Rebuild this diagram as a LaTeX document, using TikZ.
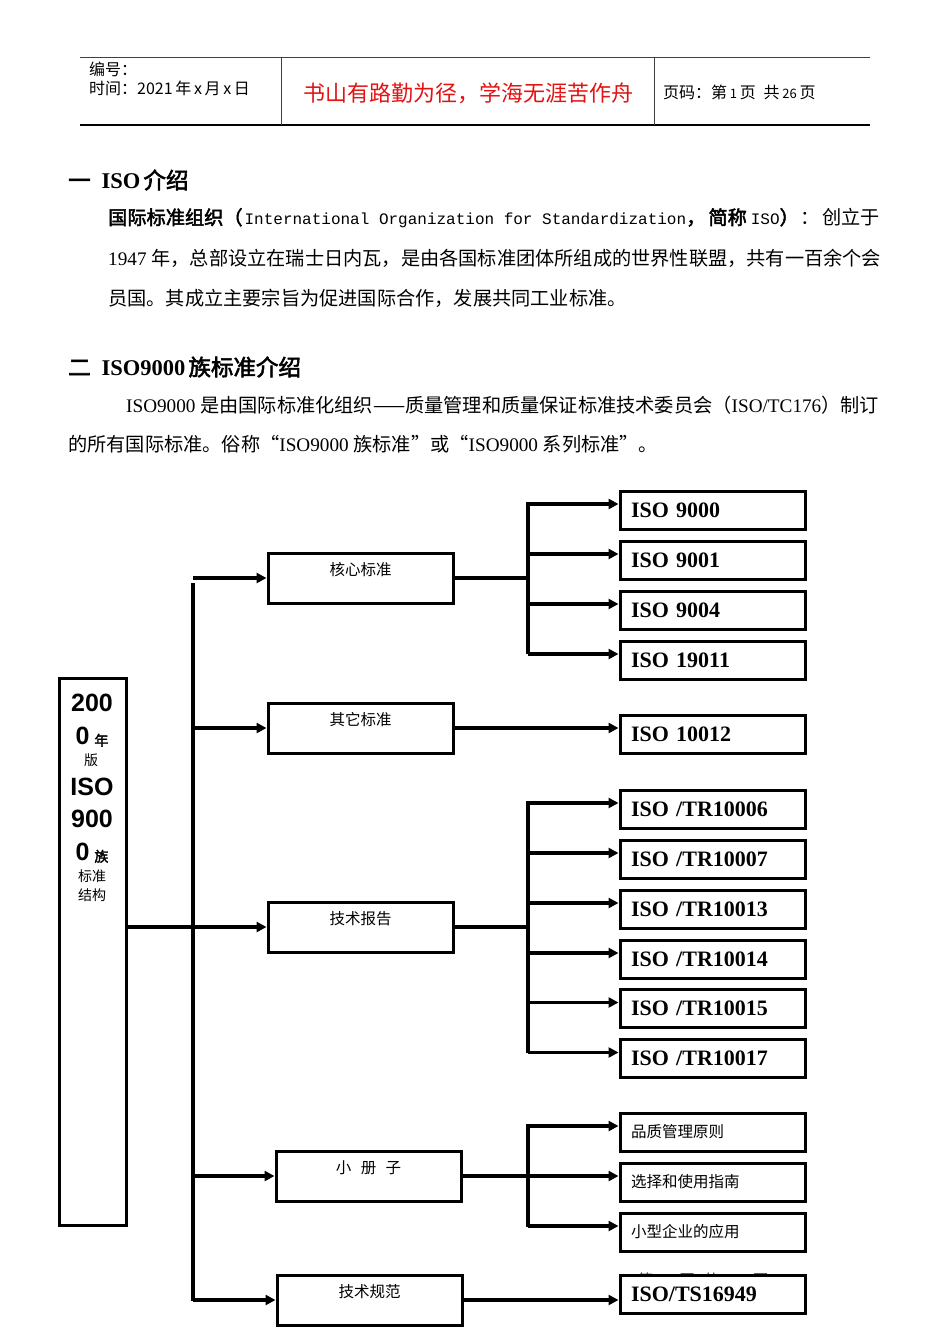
\documentclass[tikz,border=0pt]{standalone}
\usepackage{fontspec}
\setmainfont{Liberation Serif}
\newfontfamily\cjk{Noto Sans CJK SC}[AutoFakeBold=2.5]
\newfontfamily\lmono{Liberation Mono}
\newfontfamily\lsans{Liberation Sans}
\usetikzlibrary{arrows.meta}
\definecolor{titlered}{RGB}{228,18,18}
\newcommand\hdrfont{\cjk\fontsize{16}{18}\selectfont}
\newcommand\bodyfont{\fontsize{19.2}{22}\selectfont}
\newcommand\headfont{\fontsize{22.5}{24}\selectfont\bfseries}
\newcommand\bigdig{\lsans\bfseries\fontsize{25}{26}\selectfont}
\newcommand\bigcjk{\cjk\fontsize{14}{15}\selectfont}
\newcommand\monofont{\lmono\fontsize{16}{20}\selectfont}
\begin{document}
\begin{tikzpicture}[x=1pt,y=-1pt,
  txt/.style={inner sep=0pt, anchor=west},
  connline/.style={draw, line width=3.2pt},
  connarrow/.style={draw, line width=3.2pt, -{Triangle[length=10pt,width=10pt]}},
  midbox/.style={draw, line width=3pt, minimum width=185pt, minimum height=50pt, inner sep=0pt},
  midlab/.style={anchor=north, yshift=-11pt, inner sep=0pt, font=\cjk\fontsize{15.5}{16}\selectfont},
  rbox/.style={draw, fill=white, line width=3pt, minimum width=185pt, minimum height=38pt,
     inner xsep=11pt, inner ysep=0pt, text width=163pt, align=left,
     font=\rmfamily\bfseries\fontsize{22}{24}\selectfont},
  rcbox/.style={rbox, font=\cjk\fontsize{15.5}{16}\selectfont},
  bigtxt/.style={inner sep=0pt}
]
\useasboundingbox (0,0) rectangle (950,1344);
\fill[white] (0,0) rectangle (950,1344);

% ---------- header ----------
\draw[line width=0.8pt, black!75] (80,57) -- (870,57);
\draw[line width=1.3pt] (80,125) -- (870,125);
\draw[line width=0.8pt, black!75] (281,57) -- (281,125);
\draw[line width=0.8pt, black!75] (654,57) -- (654,125);
\node[txt, font=\hdrfont] (h1) at (89,69) {编号：};
\node[txt, font=\hdrfont] (h2) at (89,88) {时间：2021\,年\,x\,月\,x\,日};
\node[inner sep=0pt, font=\cjk\fontsize{22}{24}\selectfont, text=titlered] (h3) at (468,93) {书山有路勤为径，学海无涯苦作舟};
\node[txt, font=\hdrfont] (h4) at (663,92) {页码：第\,{\fontsize{13}{14}\selectfont 1}\,页\hspace{0.5em}共\,{\fontsize{13}{14}\selectfont 26}\,页};

% ---------- section 1 ----------
\node[txt, font=\headfont] (s1) at (68,180) {{\cjk 一}\hspace{11pt}ISO\hspace{3pt}{\cjk 介绍}};
\node[txt, font=\bodyfont] (p1) at (108,218) {{\cjk\bfseries 国际标准组织（}\hspace{2pt}{\monofont International Organization for Standardization}{\cjk\bfseries ，\hspace{3pt}简称\hspace{4pt}}{\monofont ISO}{\cjk\bfseries ）\hspace{2pt}}{\cjk ：\hspace{2pt}创立于}};
\node[txt, font=\bodyfont] (p2) at (108,258) {1947 {\cjk 年，总部设立在瑞士日内瓦，是由各国标准团体所组成的世界性联盟，共有一百余个会}};
\node[txt, font=\bodyfont] (p3) at (108,298) {{\cjk 员国。其成立主要宗旨为促进国际合作，发展共同工业标准。}};

% ---------- section 2 ----------
\node[txt, font=\headfont] (s2) at (68,367) {{\cjk 二}\hspace{11pt}ISO9000\hspace{3pt}{\cjk 族标准介绍}};
\node[txt, font=\bodyfont] (p4) at (126,405) {ISO9000 {\cjk 是由国际标准化组织——质量管理和质量保证标准技术委员会（}ISO/TC176{\cjk ）制订}};
\node[txt, font=\bodyfont] (p5) at (68,444) {{\cjk 的所有国际标准。俗称“}ISO9000 {\cjk 族标准”或“}ISO9000 {\cjk 系列标准”。}};

% ---------- big left box ----------
\node[draw, line width=3pt, minimum width=67pt, minimum height=547pt, inner sep=0pt] (big) at (92.5,951.5) {};
\node[bigtxt, font=\bigdig] (bt1) at (92,703) {200};
\node[bigtxt, font=\bigdig] (bt2) at (92,737) {0\hspace{5pt}\raisebox{-1pt}{\bigcjk 年}};
\node[bigtxt, font=\bigcjk] (bt3) at (91,760) {版};
\node[bigtxt, font=\bigdig] (bt4) at (92,787) {ISO};
\node[bigtxt, font=\bigdig] (bt5) at (92,819) {900};
\node[bigtxt, font=\bigdig] (bt6) at (92,853) {0\hspace{5pt}\raisebox{-1pt}{\bigcjk 族}};
\node[bigtxt, font=\bigcjk] (bt7) at (92,876) {标准};
\node[bigtxt, font=\bigcjk] (bt8) at (92,895) {结构};

% ---------- middle boxes ----------
\node[midbox, label={[midlab]north:核心标准}] (core) at (360.5,578) {};
\node[midbox, label={[midlab]north:其它标准}] (other) at (360.5,728) {};
\node[midbox, label={[midlab]north:技术报告}] (tech) at (360.5,927) {};
\node[midbox, label={[midlab]north:小\hspace{0.6em}册\hspace{0.6em}子}] (book) at (368.5,1176) {};
\node[midbox, label={[midlab]north:技术规范}] (spec) at (369.5,1300) {};

% footer of the page, mostly covered by the last box
\node[txt, font=\cjk\fontsize{15}{16}\selectfont, text=black!80] (foot) at (638,1280) {第\hspace{0.6em}1\hspace{0.6em}页\hspace{0.6em}共\hspace{0.6em}26\hspace{0.6em}页};

% ---------- right boxes ----------
\node[rbox] (r1) at (712.5,510) {ISO 9000};
\node[rbox] (r2) at (712.5,560) {ISO 9001};
\node[rbox] (r3) at (712.5,610) {ISO 9004};
\node[rbox] (r4) at (712.5,660) {ISO 19011};
\node[rbox] (r5) at (712.5,734.5) {ISO 10012};
\node[rbox] (r6) at (712.5,809) {ISO /TR10006};
\node[rbox] (r7) at (712.5,859) {ISO /TR10007};
\node[rbox] (r8) at (712.5,909) {ISO /TR10013};
\node[rbox] (r9) at (712.5,959) {ISO /TR10014};
\node[rbox] (r10) at (712.5,1008.5) {ISO /TR10015};
\node[rbox] (r11) at (712.5,1058.5) {ISO /TR10017};
\node[rcbox] (r12) at (712.5,1132) {品质管理原则};
\node[rcbox] (r13) at (712.5,1182) {选择和使用指南};
\node[rcbox] (r14) at (712.5,1232) {小型企业的应用};
\node[rbox] (r15) at (712.5,1294.5) {ISO/TS16949};

\foreach \k in {r1,r2,r3,r4,r6,r7,r8,r9,r10,r11,r12,r13,r14}
  \coordinate (\k a) at ([yshift=6pt]\k.west);

% ---------- trunk ----------
\coordinate (t0) at (193,583);
\coordinate (t1) at (193,1301);
\path[connline] (t0) -- (t1);
\path[connarrow] (big.east |- tech.west) -- (tech.west);
\path[connarrow] (t0 |- core.west) -- (core.west);
\path[connarrow] (t0 |- other.west) -- (other.west);
\path[connarrow] (t0 |- book.west) -- (book.west);
\path[connarrow] (t1 |- spec.west) -- (spec.west);

% ---------- core branch ----------
\coordinate (b1) at (528,578);
\coordinate (b1t) at (528,502);
\coordinate (b1b) at (528,654);
\path[connline] (core.east) -- (b1);
\path[connline] (b1t) -- (b1b);
\foreach \k in {r1,r2,r3,r4}
  \path[connarrow] (b1 |- \k a) -- (\k a);

% ---------- other branch ----------
\path[connarrow] (other.east) -- (other.east -| r5.west);

% ---------- technical report branch ----------
\coordinate (b2) at (528,927);
\coordinate (b2t) at (528,801);
\coordinate (b2b) at (528,1053);
\path[connline] (tech.east) -- (b2);
\path[connline] (b2t) -- (b2b);
\foreach \k in {r6,r7,r8,r9,r10,r11}
  \path[connarrow] (b2 |- \k a) -- (\k a);

% ---------- booklet branch ----------
\coordinate (b3) at (528,1176);
\coordinate (b3t) at (528,1124);
\coordinate (b3b) at (528,1227);
\path[connline] (b3t) -- (b3b);
\path[connarrow] (book.east) -- (r13a);
\path[connarrow] (b3 |- r12a) -- (r12a);
\path[connarrow] (b3 |- r14a) -- (r14a);

% ---------- specification branch ----------
\path[connarrow] (spec.east) -- (spec.east -| r15.west);
\end{tikzpicture}
\end{document}
